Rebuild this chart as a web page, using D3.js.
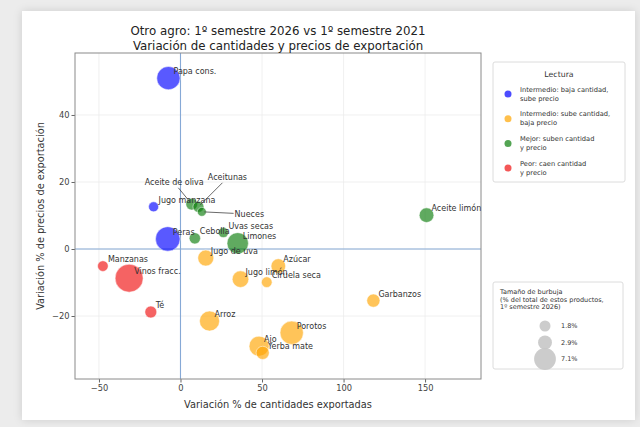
<!DOCTYPE html>
<html>
<head>
<meta charset="utf-8">
<script src="https://cdn.jsdelivr.net/npm/d3@7"></script>
<style>
  html, body { margin: 0; padding: 0; background: #ececec; }
  body { width: 640px; height: 427px; overflow: hidden; position: relative; font-family: "DejaVu Sans", sans-serif; }
  #card { position: absolute; left: 22px; top: 11px; width: 613px; height: 409px; background: #fff; box-shadow: 0 0 9px rgba(0,0,0,0.13); }
  #root svg { position: absolute; left: 0; top: 0; }
</style>
</head>
<body>
<div id="card"></div>
<div id="root"></div>
<script>
// values
const products = ['Papa cons.', 'Peras', 'Jugo manzana', 'Aceite de oliva', 'Aceitunas', 'Nueces', 'Cebolla',
  'Uvas secas', 'Limones', 'Aceite limón', 'Jugo de uva', 'Azúcar', 'Jugo limón', 'Ciruela seca', 'Garbanzos',
  'Arroz', 'Porotos', 'Ajo', 'Yerba mate', 'Manzanas', 'Vinos fracc.', 'Té']
const qtyChange = [-7.4, -7.8, -16.5, 6.9, 11.0, 13.1, 8.8, 26.3, 35.1, 150.9, 15.5, 60.0, 36.8, 52.9, 118.3,
  17.8, 68.2, 48.2, 50.4, -47.6, -31.5, -18.2]
const priceChange = [51.0, 3.0, 12.6, 13.4, 12.6, 11.1, 3.2, 4.9, 1.7, 10.1, -2.7, -5.1, -9.0, -9.9, -15.4,
  -21.5, -25.0, -29.0, -31.0, -5.1, -8.7, -18.8]
const share = [8.1, 9.0, 1.5, 2.1, 1.8, 1.2, 1.9, 1.5, 6.8, 3.2, 3.8, 3.2, 4.1, 1.7, 2.6,
  6.0, 8.1, 6.0, 2.6, 1.7, 11.7, 2.1]

const groups = ['blue', 'orange', 'green', 'red']
const groupLabels = [
  ['Intermedio: baja cantidad,', 'sube precio'],
  ['Intermedio: sube cantidad,', 'baja precio'],
  ['Mejor: suben cantidad', 'y precio'],
  ['Peor: caen cantidad', 'y precio']
]
const sizeLegend = [1.8, 2.9, 7.1]
const xTicks = [-50, 0, 50, 100, 150]
const yTicks = [-20, 0, 20, 40]

const titleLines = ['Otro agro: 1º semestre 2026 vs 1º semestre 2021', 'Variación de cantidades y precios de exportación']

// label placement for the crowded cluster (pixel offsets from the bubble)
const callouts = {
  'Aceite de oliva': [-17.5, -21.3],
  'Aceitunas': [29, -29],
  'Nueces': [47.5, 2.3]
}

const W = 640
const H = 427
const plot = { left: 75, top: 53, right: 481, bottom: 379 }
const colors = { blue: '#0000ff', orange: '#ffa500', green: '#0a7d0a', red: '#f01010' }

const svg = d3.select('#root').append('svg')
  .attr('width', W)
  .attr('height', H)
  .style('font-family', '"DejaVu Sans", sans-serif')

const x = d3.scaleLinear().domain([-64.7, 184.3]).range([plot.left, plot.right])
const y = d3.scaleLinear().domain([-38.8, 58.5]).range([plot.bottom, plot.top])
const r = d3.scaleSqrt().domain([0, 7.1]).range([0, 10.9])

const groupOf = (q, p) => q < 0 && p >= 0 ? 'blue' : q >= 0 && p < 0 ? 'orange' : q >= 0 ? 'green' : 'red'

const data = products.map((name, i) => ({
  name, q: qtyChange[i], p: priceChange[i], s: share[i], g: groupOf(qtyChange[i], priceChange[i])
}))

// grid
svg.append('g').selectAll('line').data(xTicks).join('line')
  .attr('x1', d => x(d)).attr('x2', d => x(d))
  .attr('y1', plot.top).attr('y2', plot.bottom)
  .attr('stroke', '#ececec').attr('stroke-width', 0.8)
svg.append('g').selectAll('line').data(yTicks).join('line')
  .attr('x1', plot.left).attr('x2', plot.right)
  .attr('y1', d => y(d)).attr('y2', d => y(d))
  .attr('stroke', '#ececec').attr('stroke-width', 0.8)

// zero reference lines
svg.append('line')
  .attr('x1', x(0)).attr('x2', x(0)).attr('y1', plot.top).attr('y2', plot.bottom)
  .attr('stroke', '#86a9d6').attr('stroke-width', 1.1)
svg.append('line')
  .attr('x1', plot.left).attr('x2', plot.right).attr('y1', y(0)).attr('y2', y(0))
  .attr('stroke', '#86a9d6').attr('stroke-width', 1.1)

// axes
const xAxis = svg.append('g')
  .attr('transform', `translate(0,${plot.bottom})`)
  .call(d3.axisBottom(x).tickValues(xTicks).tickSize(3.5).tickPadding(3))
const yAxis = svg.append('g')
  .attr('transform', `translate(${plot.left},0)`)
  .call(d3.axisLeft(y).tickValues(yTicks).tickSize(3.5).tickPadding(2))
for (const ax of [xAxis, yAxis]) {
  ax.select('.domain').remove()
  ax.selectAll('line').attr('stroke', '#666')
  ax.selectAll('text').attr('fill', '#444').style('font-size', '8.3px').style('font-family', '"DejaVu Sans", sans-serif')
}

svg.append('rect')
  .attr('x', plot.left).attr('y', plot.top)
  .attr('width', plot.right - plot.left).attr('height', plot.bottom - plot.top)
  .attr('fill', 'none').attr('stroke', '#8a8a8a').attr('stroke-width', 1)

// bubbles, big ones first
const sorted = data.slice().sort((a, b) => b.s - a.s)
svg.append('g').selectAll('circle').data(sorted).join('circle')
  .attr('cx', d => x(d.q))
  .attr('cy', d => y(d.p))
  .attr('r', d => r(d.s))
  .attr('fill', d => colors[d.g])
  .attr('fill-opacity', 0.65)
  .attr('stroke', '#fff')
  .attr('stroke-width', 0.5)

// plain labels
svg.append('g').selectAll('text').data(data.filter(d => !callouts[d.name])).join('text')
  .attr('x', d => x(d.q) + 5)
  .attr('y', d => y(d.p) - 4)
  .attr('fill', '#333')
  .style('font-size', '8px')
  .text(d => d.name)

// labels with leader lines
const cg = svg.append('g')
data.filter(d => callouts[d.name]).forEach(d => {
  const cx = x(d.q)
  const cy = y(d.p)
  const [dx, dy] = callouts[d.name]
  const tx = cx + dx
  const ty = cy + dy
  const t = cg.append('text')
    .attr('x', tx).attr('y', ty)
    .attr('text-anchor', 'middle')
    .attr('dominant-baseline', 'central')
    .attr('fill', '#333')
    .style('font-size', '8px')
    .text(d.name)
  const bb = t.node().getBBox()
  const vx = cx - tx
  const vy = cy - ty
  const len = Math.hypot(vx, vy)
  const k = Math.min((bb.width / 2 + 1) / Math.abs(vx || 1e-6), (bb.height / 2 + 0.5) / Math.abs(vy || 1e-6))
  cg.insert('line', 'text')
    .attr('x1', tx + vx * k).attr('y1', ty + vy * k)
    .attr('x2', cx - vx / len * 2.5).attr('y2', cy - vy / len * 2.5)
    .attr('stroke', '#444').attr('stroke-width', 0.8)
})

// titles
svg.append('g').selectAll('text').data(titleLines).join('text')
  .attr('x', (plot.left + plot.right) / 2)
  .attr('y', (d, i) => 31 + i * 14.5)
  .attr('text-anchor', 'middle')
  .attr('dominant-baseline', 'central')
  .attr('fill', '#222')
  .style('font-size', '11.8px')
  .text(d => d)

svg.append('text')
  .attr('x', (plot.left + plot.right) / 2).attr('y', 404)
  .attr('text-anchor', 'middle').attr('dominant-baseline', 'central')
  .attr('fill', '#333').style('font-size', '9.8px')
  .text('Variación % de cantidades exportadas')
svg.append('text')
  .attr('transform', `translate(40,${(plot.top + plot.bottom) / 2}) rotate(-90)`)
  .attr('text-anchor', 'middle').attr('dominant-baseline', 'central')
  .attr('fill', '#333').style('font-size', '9.8px')
  .text('Variación % de precios de exportación')

// colour legend
const lg = svg.append('g')
lg.append('rect')
  .attr('x', 493).attr('y', 62).attr('width', 132).attr('height', 120).attr('rx', 2)
  .attr('fill', '#fff').attr('stroke', '#dcdcdc')
lg.append('text')
  .attr('x', 559).attr('y', 74).attr('text-anchor', 'middle').attr('dominant-baseline', 'central')
  .attr('fill', '#333').style('font-size', '7.8px').text('Lectura')
const rows = lg.selectAll('g.row').data(groups).join('g')
  .attr('class', 'row')
  .attr('transform', (d, i) => `translate(0,${94 + i * 24.7})`)
rows.append('circle')
  .attr('cx', 508).attr('cy', 0).attr('r', 3.5)
  .attr('fill', d => colors[d]).attr('fill-opacity', 0.7)
rows.each(function (d, i) {
  d3.select(this).selectAll('text').data(groupLabels[i]).join('text')
    .attr('x', 520).attr('y', (t, j) => -4.5 + j * 9)
    .attr('dominant-baseline', 'central')
    .attr('fill', '#333').style('font-size', '6.7px')
    .text(t => t)
})

// size legend
const sg = svg.append('g')
sg.append('rect')
  .attr('x', 493).attr('y', 282).attr('width', 130).attr('height', 87).attr('rx', 2)
  .attr('fill', '#fff').attr('stroke', '#dcdcdc')
sg.selectAll('text.t').data(['Tamaño de burbuja', '(% del total de estos productos,', '1º semestre 2026)']).join('text')
  .attr('class', 't')
  .attr('x', 500).attr('y', (d, i) => 292 + i * 7.6)
  .attr('dominant-baseline', 'central')
  .attr('fill', '#333').style('font-size', '6.5px')
  .text(d => d)
sg.selectAll('circle').data(sizeLegend).join('circle')
  .attr('cx', 545).attr('cy', (d, i) => 326 + i * 16.5)
  .attr('r', d => r(d))
  .attr('fill', '#c6c6c6').attr('fill-opacity', 0.9)
sg.selectAll('text.v').data(sizeLegend).join('text')
  .attr('class', 'v')
  .attr('x', 561).attr('y', (d, i) => 326 + i * 16.5)
  .attr('dominant-baseline', 'central')
  .attr('fill', '#333').style('font-size', '6.5px')
  .text(d => d3.format('.1f')(d) + '%')
</script>
</body>
</html>
